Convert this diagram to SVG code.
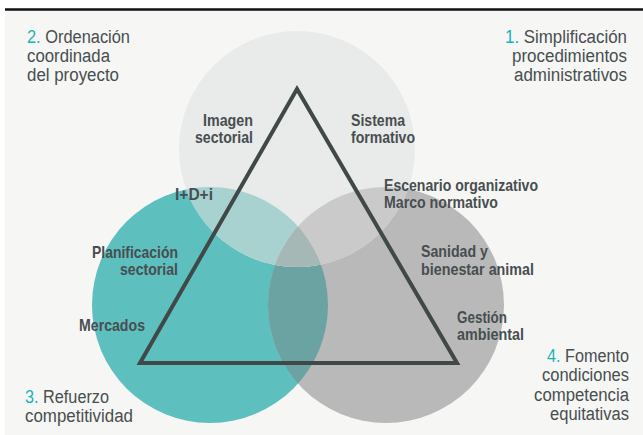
<svg xmlns="http://www.w3.org/2000/svg" width="643" height="435" viewBox="0 0 643 435">
<defs>
<style>
.lbl{font-family:"Liberation Sans",Arial,sans-serif;font-weight:bold;font-size:16.5px;fill:#474e50}
.out{font-family:"Liberation Sans",Arial,sans-serif;font-size:18px;fill:#474e50}
.num{fill:#1db2b8}
</style>
<clipPath id="cTeal"><circle cx="210" cy="305" r="118"/></clipPath>
<clipPath id="cGray"><circle cx="386" cy="305" r="118"/></clipPath>
</defs>
<rect x="0" y="0" width="643" height="435" fill="#ffffff"/>
<rect x="5" y="10" width="638" height="425" fill="#f6f6f4"/>
<line x1="5" y1="9.5" x2="643" y2="9.5" stroke="#111" stroke-width="2.5"/>

<g id="circles">
<circle id="teal" cx="210" cy="305" r="118" fill="#5ebfbf"/>
<circle id="gray" cx="386" cy="305" r="118" fill="#b9b9b9"/>
<circle cx="386" cy="305" r="118" fill="#6aa3a1" clip-path="url(#cTeal)"/>
<circle id="top" cx="297" cy="149" r="118" fill="#e9eaea"/>
<circle cx="297" cy="149" r="118" fill="#a8d2d0" clip-path="url(#cTeal)"/>
<circle cx="297" cy="149" r="118" fill="#cacaca" clip-path="url(#cGray)"/>
<g clip-path="url(#cGray)"><circle cx="297" cy="149" r="118" fill="#a5b8b6" clip-path="url(#cTeal)"/></g>
</g>

<g id="connectors">
<polygon points="297,89 140,363 457,363" fill="none" stroke="#404848" stroke-width="4" stroke-linejoin="miter"/>
</g>

<g id="inner-labels">
<text class="lbl" x="203" y="126" textLength="50" lengthAdjust="spacingAndGlyphs">Imagen</text>
<text class="lbl" x="195" y="143" textLength="58" lengthAdjust="spacingAndGlyphs">sectorial</text>
<text class="lbl" x="351" y="126" textLength="54" lengthAdjust="spacingAndGlyphs">Sistema</text>
<text class="lbl" x="351" y="143" textLength="64" lengthAdjust="spacingAndGlyphs">formativo</text>
<text class="lbl" x="175" y="200" textLength="38" lengthAdjust="spacingAndGlyphs">I+D+i</text>
<text class="lbl" x="384" y="191" textLength="154" lengthAdjust="spacingAndGlyphs">Escenario organizativo</text>
<text class="lbl" x="384" y="208" textLength="114" lengthAdjust="spacingAndGlyphs">Marco normativo</text>
<text class="lbl" x="92" y="258" textLength="86" lengthAdjust="spacingAndGlyphs">Planificación</text>
<text class="lbl" x="120" y="275" textLength="58" lengthAdjust="spacingAndGlyphs">sectorial</text>
<text class="lbl" x="79" y="331" textLength="66" lengthAdjust="spacingAndGlyphs">Mercados</text>
<text class="lbl" x="421" y="257" textLength="67" lengthAdjust="spacingAndGlyphs">Sanidad y</text>
<text class="lbl" x="421" y="275" textLength="113" lengthAdjust="spacingAndGlyphs">bienestar animal</text>
<text class="lbl" x="457" y="323" textLength="50" lengthAdjust="spacingAndGlyphs">Gestión</text>
<text class="lbl" x="457" y="340" textLength="67" lengthAdjust="spacingAndGlyphs">ambiental</text>
</g>

<g id="label-2">
<text class="out" x="27" y="43" textLength="103" lengthAdjust="spacingAndGlyphs"><tspan class="num">2.</tspan> Ordenación</text>
<text class="out" x="27" y="62" textLength="83" lengthAdjust="spacingAndGlyphs">coordinada</text>
<text class="out" x="27" y="81" textLength="92" lengthAdjust="spacingAndGlyphs">del proyecto</text>
</g>
<g id="label-1">
<text class="out" x="505" y="43" textLength="122" lengthAdjust="spacingAndGlyphs"><tspan class="num">1.</tspan> Simplificación</text>
<text class="out" x="512" y="62" textLength="115" lengthAdjust="spacingAndGlyphs">procedimientos</text>
<text class="out" x="514" y="81" textLength="113" lengthAdjust="spacingAndGlyphs">administrativos</text>
</g>
<g id="label-3">
<text class="out" x="25" y="403" textLength="84" lengthAdjust="spacingAndGlyphs"><tspan class="num">3.</tspan> Refuerzo</text>
<text class="out" x="25" y="422" textLength="108" lengthAdjust="spacingAndGlyphs">competitividad</text>
</g>
<g id="label-4">
<text class="out" x="547" y="362" textLength="82" lengthAdjust="spacingAndGlyphs"><tspan class="num">4.</tspan> Fomento</text>
<text class="out" x="542" y="381" textLength="87" lengthAdjust="spacingAndGlyphs">condiciones</text>
<text class="out" x="534" y="401" textLength="95" lengthAdjust="spacingAndGlyphs">competencia</text>
<text class="out" x="550" y="420" textLength="79" lengthAdjust="spacingAndGlyphs">equitativas</text>
</g>
</svg>
